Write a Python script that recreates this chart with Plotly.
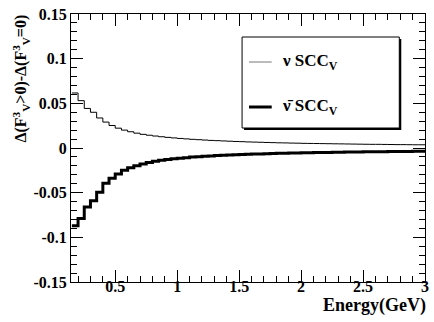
import numpy as np
import plotly.graph_objects as go

# Data: histogram bins (GeV) and contents
bin_low = 0.15
bin_width = 0.05
n_bins = 57
nu_scc = [0.0616, 0.0530, 0.0443, 0.0400, 0.0336, 0.0290, 0.0252, 0.0222, 0.0200, 0.0182,
          0.0166, 0.0153, 0.0143, 0.0134, 0.0126, 0.0119, 0.0113, 0.0107, 0.0102, 0.0097,
          0.0093, 0.0089, 0.0085, 0.0082, 0.0079, 0.0076, 0.0073, 0.0071, 0.0068, 0.0066,
          0.0064, 0.0062, 0.0060, 0.0058, 0.0057, 0.0055, 0.0054, 0.0052, 0.0051, 0.0050,
          0.0049, 0.0048, 0.0047, 0.0046, 0.0045, 0.0044, 0.0043, 0.0042, 0.0041, 0.0041,
          0.0040, 0.0039, 0.0038, 0.0038, 0.0037, 0.0036, 0.0036]
nubar_scc = [-0.0870, -0.0790, -0.0660, -0.0590, -0.0495, -0.0395, -0.0340, -0.0290, -0.0250, -0.0222,
             -0.0198, -0.0178, -0.0162, -0.0149, -0.0138, -0.0129, -0.0121, -0.0114, -0.0108, -0.0102,
             -0.0097, -0.0093, -0.0089, -0.0085, -0.0082, -0.0079, -0.0076, -0.0073, -0.0070, -0.0068,
             -0.0066, -0.0064, -0.0062, -0.0060, -0.0058, -0.0057, -0.0055, -0.0054, -0.0052, -0.0051,
             -0.0050, -0.0049, -0.0048, -0.0047, -0.0046, -0.0045, -0.0044, -0.0043, -0.0042, -0.0041,
             -0.0041, -0.0040, -0.0039, -0.0038, -0.0038, -0.0037, -0.0037]
x_tickvals = [0.5, 1, 1.5, 2, 2.5, 3]
x_ticktext = ["0.5", "1", "1.5", "2", "2.5", "3"]
y_tickvals = [-0.15, -0.1, -0.05, 0, 0.05, 0.1, 0.15]
y_ticktext = ["-0.15", "-0.1", "-0.05", "0", "0.05", "0.1", "0.15"]

edges = bin_low + bin_width * np.arange(n_bins + 1)

FONT = "Liberation Serif"
W, H = 434, 322
L, R, T, B = 71, 5, 14, 40
pw, ph = W - L - R, H - T - B

def px(x):
    return (x - L) / pw

def py(y):
    return (H - B - y) / ph

fig = go.Figure()
fig.add_trace(go.Scatter(x=edges, y=list(nu_scc) + [nu_scc[-1]], mode="lines",
                         line=dict(color="black", width=1, shape="hv"), showlegend=False))
fig.add_trace(go.Scatter(x=edges, y=list(nubar_scc) + [nubar_scc[-1]], mode="lines",
                         line=dict(color="black", width=3, shape="hv"), showlegend=False))

axis_common = dict(showline=True, linecolor="black", linewidth=1, mirror="ticks",
                   ticks="inside", ticklen=12, tickwidth=1, tickcolor="black",
                   showgrid=False, zeroline=False)

fig.update_xaxes(range=[0.143, 3.0], tickvals=x_tickvals, ticktext=["<b>%s</b>" % t for t in x_ticktext],
                 ticklabelstandoff=-10,
                 tickfont=dict(family=FONT, size=16, color="black"),
                 minor=dict(ticks="inside", ticklen=6, dtick=0.1, tick0=0, tickcolor="black", showgrid=False),
                 **axis_common)
fig.update_yaxes(range=[-0.15, 0.15], tickvals=y_tickvals, ticktext=["<b>%s</b>" % t for t in y_ticktext],
                 tickfont=dict(family=FONT, size=16, color="black"),
                 minor=dict(ticks="inside", ticklen=6, dtick=0.01, tick0=0, tickcolor="black", showgrid=False),
                 **axis_common)

# Legend box with shadow
bx0, bx1, by0, by1 = 244, 403, 37, 128
shapes = [
    dict(type="rect", xref="paper", yref="paper", x0=px(bx0 + 2), x1=px(bx1 + 2), y0=py(by1 + 2), y1=py(by0 + 2),
         fillcolor="black", line=dict(width=0)),
    dict(type="rect", xref="paper", yref="paper", x0=px(bx0), x1=px(bx1), y0=py(by1), y1=py(by0),
         fillcolor="white", line=dict(color="black", width=1)),
    dict(type="line", xref="paper", yref="paper", x0=px(251), x1=px(274), y0=py(62), y1=py(62),
         line=dict(color="#777777", width=1)),
    dict(type="line", xref="paper", yref="paper", x0=px(251), x1=px(274), y0=py(107), y1=py(107),
         line=dict(color="black", width=3)),
]
annotations = [
    dict(xref="paper", yref="paper", x=px(282), y=py(62), xanchor="left", yanchor="middle", showarrow=False,
         text="<b>ν SCC<sub>V</sub></b>", font=dict(family=FONT, size=17, color="black")),
    dict(xref="paper", yref="paper", x=px(282), y=py(107), xanchor="left", yanchor="middle", showarrow=False,
         text="<b>ν\u0304 SCC<sub>V</sub></b>", font=dict(family=FONT, size=17, color="black")),
    dict(xref="paper", yref="paper", x=px(432), y=py(305), xanchor="right", yanchor="middle", showarrow=False,
         text="<b>Energy(GeV)</b>", font=dict(family=FONT, size=18, color="black")),
    dict(xref="paper", yref="paper", x=px(20), y=py(13), xanchor="center", yanchor="top", showarrow=False,
         textangle=-90,
         text="<b>Δ(F<sup>3</sup><sub>V</sub>>0)-Δ(F<sup>3</sup><sub>V</sub>=0)</b>",
         font=dict(family=FONT, size=16, color="black")),
]

fig.update_layout(width=W, height=H, margin=dict(l=L, r=R, t=T, b=B),
                  paper_bgcolor="white", plot_bgcolor="white",
                  shapes=shapes, annotations=annotations, showlegend=False)

fig.write_html("out.html")
